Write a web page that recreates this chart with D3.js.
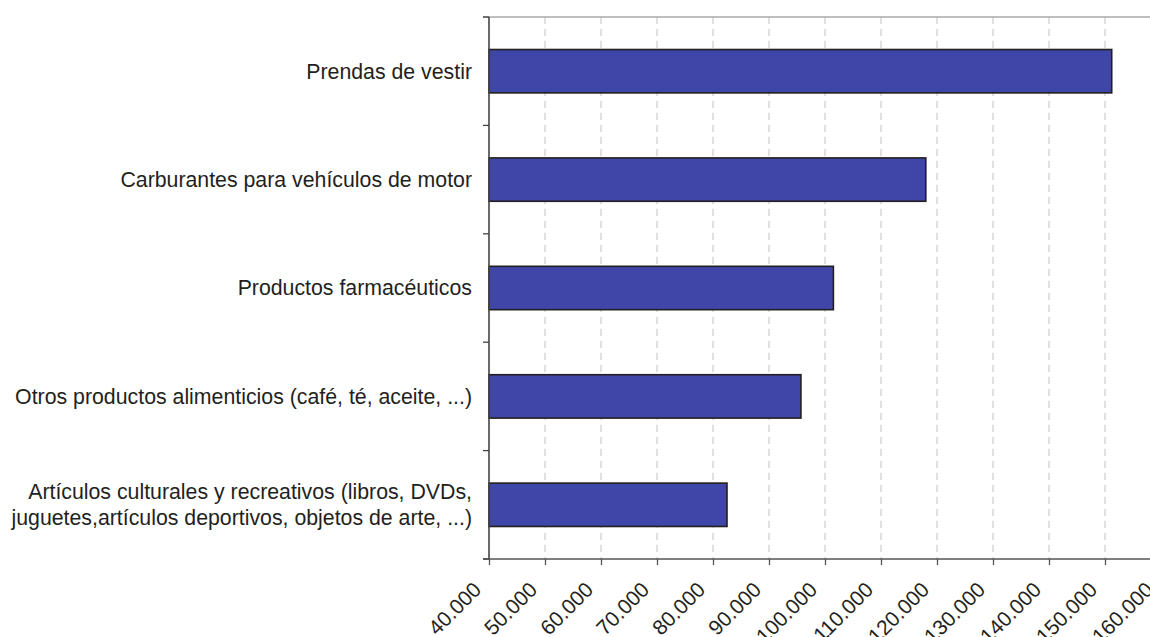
<!DOCTYPE html>
<html>
<head>
<meta charset="utf-8">
<script src="https://cdn.jsdelivr.net/npm/d3@7"></script>
<style>
  body { margin: 0; background: #fff; }
  text { font-family: "Liberation Sans", Arial, Helvetica, sans-serif; fill: #231f20; }
</style>
</head>
<body>
<script>
var width = 1150,
    height = 637;

// data
var categories = [
  "Prendas de vestir",
  "Carburantes para vehículos de motor",
  "Productos farmacéuticos",
  "Otros productos alimenticios (café, té, aceite, ...)",
  "Artículos culturales y recreativos (libros, DVDs,|juguetes,artículos deportivos, objetos de arte, ...)"
];
var values = [151200, 118000, 101500, 95700, 82500];
var xTicks = [40000, 50000, 60000, 70000, 80000, 90000, 100000, 110000, 120000, 130000, 140000, 150000, 160000];

var margin = {top: 17, left: 489, bottom: 78};
var plotRight = 1161;

var svg = d3.select("body").append("svg")
    .attr("width", width)
    .attr("height", height);

var x = d3.scaleLinear()
    .domain([40000, 160000])
    .range([margin.left, plotRight]);

var y = d3.scaleBand()
    .domain(categories)
    .range([margin.top, height - margin.bottom])
    .paddingInner(0.6)
    .paddingOuter(0.3);

var es = d3.formatLocale({decimal: ",", thousands: ".", grouping: [3], currency: ["", " €"]});
var fmt = es.format(",d");

var yBottom = height - margin.bottom;

// grid
svg.append("g")
    .attr("class", "grid")
    .selectAll("line")
    .data(xTicks.slice(1))
    .enter().append("line")
    .attr("x1", function(d) { return x(d); })
    .attr("x2", function(d) { return x(d); })
    .attr("y1", margin.top)
    .attr("y2", yBottom)
    .attr("stroke", "#d0d0d0")
    .attr("stroke-width", 1.3)
    .attr("stroke-dasharray", "7,5");

// top border
svg.append("line")
    .attr("x1", margin.left - 6)
    .attr("x2", width)
    .attr("y1", margin.top)
    .attr("y2", margin.top)
    .attr("stroke", "#a8a8a8")
    .attr("stroke-width", 1.5);

// bars
svg.append("g")
    .selectAll("rect")
    .data(values)
    .enter().append("rect")
    .attr("x", x(40000))
    .attr("y", function(d, i) { return y(categories[i]); })
    .attr("width", function(d) { return x(d) - x(40000); })
    .attr("height", y.bandwidth())
    .attr("fill", "#4046a8")
    .attr("stroke", "#231f20")
    .attr("stroke-width", 1.6);

// x axis
var xAxis = svg.append("g")
    .attr("transform", "translate(0," + yBottom + ")")
    .call(d3.axisBottom(x).tickValues(xTicks).tickFormat(fmt).tickSize(6).tickSizeOuter(0));
xAxis.select(".domain")
    .attr("d", "M" + (margin.left - 6) + ",0H" + width)
    .attr("stroke", "#555")
    .attr("stroke-width", 1.6);
xAxis.selectAll(".tick line").attr("stroke", "#555").attr("stroke-width", 1.3);
xAxis.selectAll(".tick text")
    .attr("font-size", 21)
    .attr("text-anchor", "end")
    .attr("y", 0)
    .attr("dy", 0)
    .attr("transform", "translate(-7,32) rotate(-45)");

// y axis: line plus ticks at band boundaries
svg.append("line")
    .attr("x1", margin.left)
    .attr("x2", margin.left)
    .attr("y1", margin.top)
    .attr("y2", yBottom)
    .attr("stroke", "#444")
    .attr("stroke-width", 1.6);

var bounds = d3.range(categories.length + 1).map(function(i) { return margin.top + i * y.step(); });
svg.append("g")
    .selectAll("line")
    .data(bounds)
    .enter().append("line")
    .attr("x1", margin.left - 6)
    .attr("x2", margin.left)
    .attr("y1", function(d) { return d; })
    .attr("y2", function(d) { return d; })
    .attr("stroke", "#444")
    .attr("stroke-width", 1.3);

// category labels
var labels = svg.append("g")
    .selectAll("text")
    .data(categories)
    .enter().append("text")
    .attr("x", margin.left - 17)
    .attr("y", function(d) { return y(d) + y.bandwidth() / 2; })
    .attr("font-size", 21.3)
    .attr("text-anchor", "end");

labels.each(function(d) {
    var lines = d.split("|");
    var t = d3.select(this);
    lines.forEach(function(l, i) {
        t.append("tspan")
            .attr("x", margin.left - 17)
            .attr("dy", i === 0 ? (0.35 - (lines.length - 1) * 0.61) + "em" : "1.22em")
            .text(l);
    });
});
</script>
</body>
</html>
